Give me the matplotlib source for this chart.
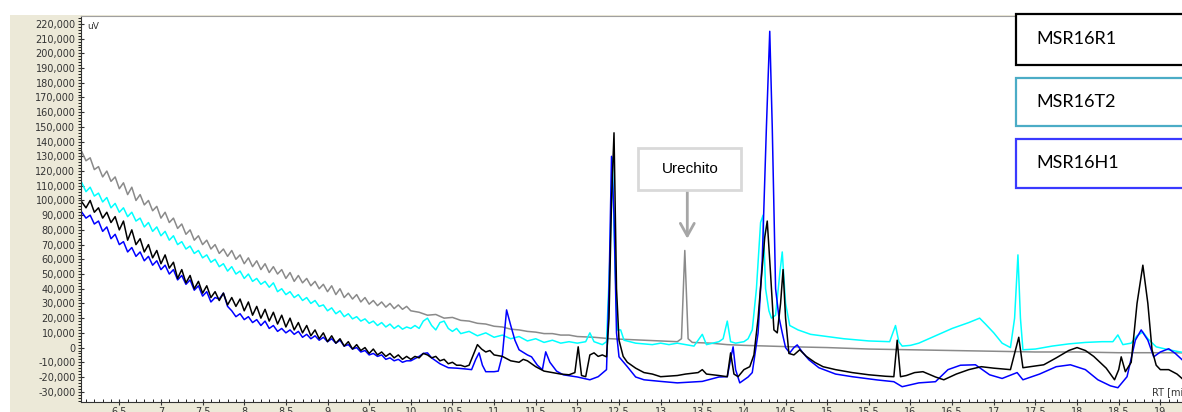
import matplotlib
matplotlib.use("Agg")
import matplotlib.pyplot as plt
from matplotlib.patches import Rectangle
from matplotlib.ticker import MultipleLocator, FuncFormatter
import numpy as np

# retention time grid for the noisy start of the run (min)
t_base = np.round(np.arange(6.05, 9.96, 0.05), 2)

# signal values in thousands of uV
gray_base = [133, 127, 129, 121, 123, 116, 120, 113, 116, 108, 112, 104, 109, 100, 104, 97,
             100, 93, 96, 88, 92, 85, 88, 81, 84, 77, 80, 73, 76, 70, 73, 67, 70, 64, 67, 62,
             66, 60, 63, 57, 61, 55, 59, 53, 57, 51, 55, 50, 53, 47, 51, 45, 49, 44, 47, 42,
             45, 40, 43, 38, 42, 36, 40, 34, 37, 33, 36, 31, 34, 29.5, 32, 28.5, 31, 27.5, 30,
             26.5, 29, 26, 28]
gray_t = [10.0, 10.1, 10.2, 10.3, 10.4, 10.5, 10.6, 10.7, 10.8, 10.9, 11.0, 11.1, 11.2, 11.3,
          11.4, 11.5, 11.6, 11.7, 11.8, 11.9, 12.0, 12.2, 12.4, 12.6, 12.8, 13.0, 13.2, 13.25,
          13.29, 13.33, 13.38, 13.6, 13.8, 14.0, 14.3, 14.6, 15.0, 15.5, 16.0, 16.5, 17.0,
          17.5, 18.0, 18.5, 19.0, 19.3]
gray_v = [25, 24, 22, 22.5, 20, 20.5, 18.5, 18, 16.5, 16, 14.5, 14, 12.5, 12, 11, 10.5, 9.5,
          9.5, 8.5, 8.5, 7.5, 7, 6, 5.5, 5, 4.5, 4, 6, 66, 6, 3.5, 3, 2, 1.5, 1, 0.5, 0, -1,
          -1.5, -2, -2.5, -3, -3, -3.5, -3.5, -3.6]

cyan_base = [112, 106, 109, 103, 105, 99, 102, 95, 98, 92, 95, 89, 92, 86, 88, 82, 85, 79, 82,
             76, 79, 73, 76, 70, 72, 67, 69, 64, 66, 61, 63, 58, 60, 55, 57, 52, 55, 50, 52, 47,
             50, 45, 47, 43, 45, 41, 44, 38, 40, 36, 38, 34, 36, 32, 34, 30, 32, 28, 29, 25, 27,
             23, 25, 21, 23, 19.5, 21, 18, 19.5, 16.5, 18, 15, 17, 14, 16, 13, 15, 12.5, 14]
cyan_t = [10.0, 10.05, 10.1, 10.15, 10.2, 10.25, 10.3, 10.35, 10.4, 10.45, 10.5, 10.55, 10.6,
          10.7, 10.8, 10.9, 11.0, 11.1, 11.2, 11.3, 11.4, 11.5, 11.6, 11.7, 11.8, 11.9, 12.0,
          12.1, 12.15, 12.2, 12.3, 12.35, 12.39, 12.42, 12.45, 12.48, 12.52, 12.56, 12.7, 12.9,
          13.0, 13.1, 13.2, 13.4, 13.5, 13.55, 13.7, 13.75, 13.8, 13.84, 13.9, 14.0, 14.05,
          14.1, 14.15, 14.2, 14.23, 14.26, 14.3, 14.33, 14.38, 14.43, 14.46, 14.5, 14.55,
          14.65, 14.8, 15.0, 15.2, 15.5, 15.75, 15.82, 15.86, 15.9, 16.0, 16.1, 16.3, 16.5,
          16.6, 16.7, 16.83, 16.9, 17.0, 17.1, 17.2, 17.25, 17.29, 17.32, 17.35, 17.5, 17.7,
          17.9, 18.1, 18.3, 18.43, 18.49, 18.55, 18.65, 18.72, 18.79, 18.85, 18.95, 19.1, 19.3]
cyan_v = [13, 15, 13, 18, 20, 15, 12, 17, 18, 13, 11, 13, 9.5, 11, 8, 10, 7, 8.5, 6, 7.5, 4.5,
          6, 3.5, 5, 3, 4, 3, 4, 10, 4, 2, 4, 60, 129, 60, 12, 12, 5, 3, 2, 3, 2, 3, 1, 9, 2, 4,
          6, 18, 4, 3, 4, 6, 12, 40, 85, 90, 40, 25, 20, 22, 50, 65, 30, 15, 12, 9, 7.5, 6, 4.5,
          4, 15, 4, 1, 1.5, 3, 8, 13, 15, 17, 20, 16, 10, 3, 0, 20, 63, 20, -1.5, -1, 1, 2.5,
          3.5, 4, 4, 8.6, 2, 3, 8, 10.6, 6, 0.5, -1.5, -3.6]

black_base = [99, 95, 100, 92, 95, 88, 92, 85, 89, 80, 86, 73, 80, 70, 74, 65, 70, 61, 66, 57,
              63, 54, 58, 47, 53, 44, 49, 40, 45, 37, 42, 34, 38, 32, 37, 29, 34, 28, 33, 25,
              31, 22, 28, 20, 26, 18, 24, 16, 22, 14, 20, 12, 17, 10, 15, 8, 12, 6, 10, 4, 8,
              3, 6, 1, 4, -1, 2, -2, 0, -4, -1, -5, -3, -6, -4, -7, -5, -8, -6]
black_t = [10.0, 10.05, 10.1, 10.15, 10.2, 10.25, 10.3, 10.35, 10.4, 10.45, 10.5, 10.55, 10.6,
           10.65, 10.7, 10.75, 10.8, 10.85, 10.9, 10.95, 11.0, 11.1, 11.2, 11.3, 11.35, 11.4,
           11.5, 11.6, 11.7, 11.8, 11.9, 11.97, 12.01, 12.05, 12.1, 12.15, 12.2, 12.25, 12.3,
           12.35, 12.38, 12.41, 12.44, 12.47, 12.5, 12.55, 12.6, 12.7, 12.8, 12.9, 13.0, 13.2,
           13.3, 13.45, 13.5, 13.55, 13.7, 13.8, 13.84, 13.88, 13.93, 14.0, 14.07, 14.12,
           14.17, 14.2, 14.25, 14.28, 14.32, 14.36, 14.4, 14.44, 14.47, 14.5, 14.54, 14.6,
           14.67, 14.75, 14.85, 14.95, 15.1, 15.3, 15.5, 15.7, 15.8, 15.84, 15.88, 15.95,
           16.05, 16.15, 16.3, 16.4, 16.55, 16.7, 16.85, 17.0, 17.2, 17.3, 17.35, 17.5, 17.6,
           17.75, 17.9, 18.0, 18.1, 18.2, 18.35, 18.45, 18.5, 18.53, 18.58, 18.65, 18.72,
           18.79, 18.85, 18.9, 18.95, 19.0, 19.1, 19.2, 19.3]
black_v = [-8, -6, -7, -4, -5, -7, -6, -9, -8, -11, -10, -12, -12, -13, -12, -5, 2, -1, -3, -2,
           -5, -6, -9, -10, -8, -9, -13, -16, -17, -18, -18.5, -17, 0.5, -19, -19.8, -5, -3.6,
           -6, -5, -6.3, 20, 100, 146, 40, 5, -6, -10, -14, -17, -18, -19.8, -19, -18, -17,
           -15, -18, -19, -19.8, -3.6, -18, -19.8, -15, -13, -5, 20, 41, 75, 86, 50, 12, 10,
           30, 53, 20, -4, -5, -1.5, -6, -10, -13, -15, -17, -18.5, -19.5, -19.8, 5, -19.8,
           -19, -17, -16.4, -20, -21.9, -18, -15, -13, -14, -15, 7, -13.7, -12.5, -11.7, -7,
           -2, 0, -2, -6, -14, -21.9, -15, -6.3, -16.4, -10, 30, 56, 30, -1.5, -12, -15, -15,
           -18, -23]

blue_base = [92, 88, 90, 84, 86, 79, 82, 74, 77, 70, 72, 65, 68, 62, 65, 59, 62, 56, 59, 53,
             56, 50, 53, 46, 49, 43, 46, 39, 42, 35, 38, 31, 34, 33, 37, 28, 25, 21, 23, 19,
             21, 17, 19, 15, 18, 13, 15, 11, 13, 10, 12, 9, 11, 7, 9, 6, 8, 5, 7, 4, 6, 3, 5,
             1, 2, -1, 0, -3, -2, -5, -4, -6, -5, -8, -7, -9, -8, -10, -9]
blue_t = [10.0, 10.1, 10.15, 10.2, 10.25, 10.3, 10.35, 10.45, 10.55, 10.65, 10.73, 10.78,
          10.82, 10.86, 10.9, 11.0, 11.05, 11.1, 11.15, 11.2, 11.25, 11.3, 11.4, 11.45, 11.52,
          11.58, 11.62, 11.67, 11.75, 11.83, 12.0, 12.15, 12.25, 12.35, 12.38, 12.41, 12.44,
          12.47, 12.5, 12.6, 12.7, 12.8, 13.0, 13.2, 13.5, 13.7, 13.8, 13.85, 13.87, 13.9,
          13.95, 14.05, 14.1, 14.17, 14.22, 14.27, 14.31, 14.34, 14.38, 14.42, 14.46, 14.5,
          14.55, 14.6, 14.64, 14.7, 14.78, 14.9, 15.1, 15.3, 15.6, 15.8, 15.9, 16.1, 16.3,
          16.45, 16.6, 16.78, 16.95, 17.1, 17.28, 17.35, 17.55, 17.75, 17.92, 18.1, 18.25,
          18.4, 18.49, 18.6, 18.7, 18.77, 18.85, 18.92, 19.0, 19.1, 19.18, 19.3]
blue_v = [-9, -6, -4, -3.6, -7, -9, -11, -13.7, -14, -14.5, -15, -8, -3.6, -12, -16.4, -16.4,
          -16, -5, 25.6, 15, 5, -1.5, -5, -6.3, -12, -15, -2.9, -10, -16, -18.5, -20, -21.9,
          -19.8, -15, 40, 130, 90, 10, -6.3, -13, -20, -21.9, -23, -24, -23, -20, -19.8, -5,
          0.5, -15, -24, -20, -17, 9.9, 60, 150, 215, 150, 40, 20.8, 10, 0, -3.6, 0, 1.8, -3,
          -8.3, -13.7, -18, -19.8, -22, -23.2, -26.6, -24, -23.2, -15, -12, -11.7, -18.5,
          -21, -17, -21.9, -18, -13, -11.7, -15, -21.9, -26, -27.3, -19.8, 5, 12, 5, -6.3, -3,
          -0.8, -4, -10.3]

labels = ["MSR16R1", "MSR16T2", "MSR16H1"]
label_colors = ["#000000", "#4bacc6", "#3a3aff"]


def join(t_tail, v_tail, base):
    t = np.concatenate([t_base, t_tail])
    v = np.concatenate([base, v_tail]) * 1000
    return t, v


fig = plt.figure(figsize=(11.82, 4.12), dpi=100, facecolor="white")
# beige window panel behind the plot
bg = fig.add_axes([10 / 1182, 0, 1, (412 - 15) / 412], zorder=-1)
bg.set_facecolor("#ece9d8")
bg.set_xticks([])
bg.set_yticks([])
for s in bg.spines.values():
    s.set_visible(False)

ax = fig.add_axes([81 / 1182, 10 / 412, 1101 / 1182, 386 / 412], zorder=1)
ax.set_facecolor("white")

for t_tail, v_tail, base, col in [(gray_t, gray_v, gray_base, "#8a8a8a"),
                                  (cyan_t, cyan_v, cyan_base, "#00ffff"),
                                  (blue_t, blue_v, blue_base, "#0000ff"),
                                  (black_t, black_v, black_base, "#000000")]:
    t, v = join(t_tail, v_tail, base)
    ax.plot(t, v, color=col, lw=1.1)

ax.set_xlim(6.04, 19.26)
ax.set_ylim(-37000, 225400)
ax.xaxis.set_major_locator(MultipleLocator(0.5))
ax.xaxis.set_minor_locator(MultipleLocator(0.1))
ax.yaxis.set_major_locator(MultipleLocator(10000))
ax.yaxis.set_minor_locator(MultipleLocator(2000))
ax.yaxis.set_major_formatter(FuncFormatter(lambda v, p: f"{int(round(v)):,}"))
ax.xaxis.set_major_formatter(FuncFormatter(lambda v, p: f"{v:g}"))
ax.tick_params(axis="both", labelsize=7, labelcolor="#333333", color="#333333")
ax.tick_params(axis="y", which="major", length=4, direction="inout", pad=2)
ax.tick_params(axis="y", which="minor", length=2, direction="out")
ax.tick_params(axis="x", which="major", length=5, direction="inout", pad=1)
ax.tick_params(axis="x", which="minor", length=2, direction="in")
ax.spines["right"].set_visible(False)
ax.spines["top"].set_color("#a0a0a0")
ax.spines["left"].set_color("#333333")
ax.spines["bottom"].set_color("#333333")

ax.text(0.006, 0.985, "uV", transform=ax.transAxes, fontsize=6.5, color="#333333",
        va="top", ha="left")
ax.text(1152 / 1182, 1 - 397 / 412, "RT [min]", transform=fig.transFigure, fontsize=7,
        color="#333333", ha="left", va="bottom", zorder=3)

# sample boxes on the right
box_tops = [14, 78, 139]
box_bottoms = [65, 126, 188]
for lab, col, top, bot in zip(labels, label_colors, box_tops, box_bottoms):
    ax.add_patch(Rectangle((1016 / 1182, 1 - bot / 412), 200 / 1182, (bot - top) / 412,
                           transform=fig.transFigure, facecolor="white", edgecolor=col,
                           lw=1.6, zorder=5, clip_on=False))
    ax.text(1036 / 1182, 1 - (top + bot) / 2 / 412, lab, transform=fig.transFigure,
            fontsize=13, family="Lato", va="center", ha="left", zorder=6)

# Urechito callout
ax.add_patch(Rectangle((12.73, 107300), 1.24, 28500, facecolor="white", edgecolor="#d9d9d9",
                       lw=2, zorder=4))
ax.text(13.35, 121500, "Urechito", fontsize=11, ha="center", va="center",
        family="Liberation Sans", zorder=5)
ax.annotate("", xy=(13.32, 74000), xytext=(13.32, 107300),
            arrowprops=dict(arrowstyle="->,head_length=0.9,head_width=0.5", color="#a6a6a6",
                            lw=2, shrinkA=0, shrinkB=0))

fig.savefig("out.png", dpi=100)
